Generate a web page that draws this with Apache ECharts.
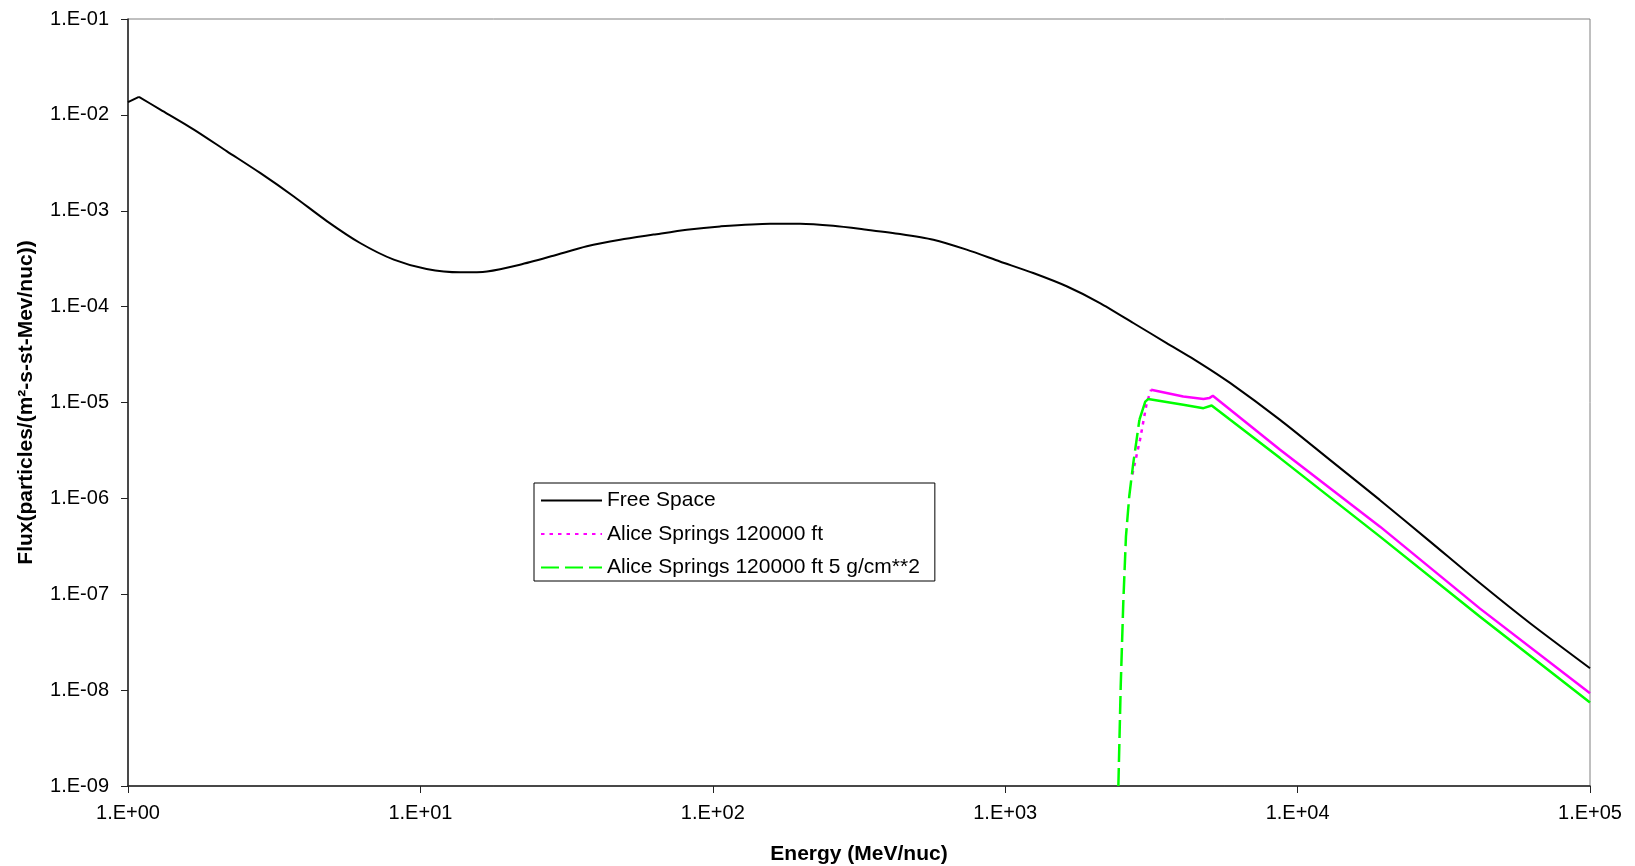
<!DOCTYPE html>
<html>
<head>
<meta charset="utf-8">
<title>Flux vs Energy</title>
<script src="https://cdn.jsdelivr.net/npm/echarts@6/dist/echarts.min.js"></script>
<style>
  html, body { margin: 0; padding: 0; background: #fff; }
  #main { width: 1635px; height: 866px; }
</style>
</head>
<body>
<div id="main"></div>
<script>
// tick labels
var xTicks = ['1.E+00', '1.E+01', '1.E+02', '1.E+03', '1.E+04', '1.E+05'];
var yTicks = ['1.E-09', '1.E-08', '1.E-07', '1.E-06', '1.E-05', '1.E-04', '1.E-03', '1.E-02', '1.E-01'];

// Free Space
var freeEnergy = [1, 1.09, 1.29, 1.68, 2.18, 2.83, 3.69, 4.8, 6.22, 8.11, 10.5, 13.7, 16.9, 21.9, 28.5, 37.1,
  48.2, 62.7, 81.5, 106, 157, 199, 258, 336, 437, 568, 738, 959, 1247, 1622, 2109, 2742, 3565, 4634,
  5875, 8710, 12900, 19100, 28400, 42100, 62400, 100000];
var freeFlux = [1.355e-2, 1.54e-2, 1.135e-2, 7.03e-3, 4.17e-3, 2.48e-3, 1.41e-3, 7.76e-4, 4.61e-4, 3.09e-4,
  2.47e-4, 2.28e-4, 2.33e-4, 2.74e-4, 3.40e-4, 4.26e-4, 4.99e-4, 5.64e-4, 6.35e-4, 6.87e-4, 7.33e-4,
  7.33e-4, 6.98e-4, 6.35e-4, 5.73e-4, 4.99e-4, 3.93e-4, 2.96e-4, 2.24e-4, 1.63e-4, 1.09e-4, 6.75e-5,
  4.17e-5, 2.58e-5, 1.60e-5, 6.59e-6, 2.52e-6, 9.64e-7, 3.54e-7, 1.30e-7, 4.98e-8, 1.69e-8];

// Alice Springs 120000 ft
var aliceEnergy = [2723, 2891, 3048, 3155, 4064, 4764, 4989, 5129, 8710, 19143, 42073, 100000];
var aliceFlux = [1.78e-6, 4.08e-6, 9.86e-6, 1.358e-5, 1.156e-5, 1.086e-5, 1.112e-5, 1.175e-5, 3.21e-6,
  5.07e-7, 7.08e-8, 9.27e-9];

// Alice Springs 120000 ft 5 g/cm**2
var shieldEnergy = [2438, 2483, 2535, 2588, 2655, 2742, 2877, 3013, 3083, 4064, 4764, 5082, 8710, 19143,
  42073, 100000];
var shieldFlux = [1.0e-9, 1.08e-8, 8.38e-8, 3.99e-7, 1.04e-6, 2.33e-6, 6.59e-6, 1.02e-5, 1.086e-5, 9.46e-6,
  8.73e-6, 9.31e-6, 2.63e-6, 3.99e-7, 5.83e-8, 7.41e-9];

var names = ['Free Space', 'Alice Springs 120000 ft', 'Alice Springs 120000 ft 5 g/cm**2'];

function pairs(xs, ys) {
  return xs.map(function (x, i) { return [x, ys[i]]; });
}

var freeData = pairs(freeEnergy, freeFlux);
var aliceData = pairs(aliceEnergy, aliceFlux);
var shieldData = pairs(shieldEnergy, shieldFlux);

var font = "'Liberation Sans', Arial, sans-serif";
var chart = echarts.init(document.getElementById('main'));

var option = {
  animation: false,
  backgroundColor: '#fff',
  grid: {
    left: 128, top: 19, width: 1462, height: 767,
    outerBoundsMode: 'none',
    show: true, borderColor: '#808080', borderWidth: 1
  },
  legend: {
    orient: 'vertical',
    left: 534, top: 483,
    data: names,
    backgroundColor: '#fff',
    borderColor: '#000', borderWidth: 1,
    padding: [7, 15, 3, 6],
    itemWidth: 61, itemHeight: 20, itemGap: 12.5,
    // hide the marker dot, keep only the line sample
    itemStyle: { opacity: 0 },
    textStyle: { fontFamily: font, fontSize: 21, color: '#000', lineHeight: 20 }
  },
  xAxis: {
    type: 'log', logBase: 10, min: 1, max: 100000, splitNumber: 5,
    name: 'Energy (MeV/nuc)', nameLocation: 'middle', nameGap: 58,
    nameTextStyle: { fontFamily: font, fontSize: 21, fontWeight: 'bold', color: '#000' },
    axisLine: { onZero: false, lineStyle: { color: '#222', width: 1.5 } },
    axisTick: { show: true, length: 7, lineStyle: { color: '#222' } },
    minorTick: { show: false },
    splitLine: { show: false },
    axisLabel: {
      margin: 17, fontFamily: font, fontSize: 20, color: '#000',
      formatter: function (v) { return xTicks[Math.round(Math.log10(v))]; }
    }
  },
  yAxis: {
    type: 'log', logBase: 10, min: 1e-9, max: 1e-1, splitNumber: 8,
    name: 'Flux(particles/(m²-s-st-Mev/nuc))', nameLocation: 'middle', nameGap: 91,
    nameTextStyle: { fontFamily: font, fontSize: 21, fontWeight: 'bold', color: '#000' },
    axisLine: { onZero: false, lineStyle: { color: '#222', width: 1.5 } },
    axisTick: { show: true, length: 7, lineStyle: { color: '#222' } },
    minorTick: { show: false },
    splitLine: { show: false },
    axisLabel: {
      margin: 19, fontFamily: font, fontSize: 20, color: '#000',
      formatter: function (v) { return yTicks[Math.round(Math.log10(v)) + 9]; }
    }
  },
  series: [
    // first short segment kept straight so the little peak stays sharp
    {
      name: names[0], type: 'line', data: freeData.slice(0, 2), symbol: 'none',
      lineStyle: { color: '#000', width: 2 }, itemStyle: { color: '#000' }
    },
    {
      name: names[0], type: 'line', data: freeData.slice(1), symbol: 'none', smooth: 0.25,
      lineStyle: { color: '#000', width: 2 }, itemStyle: { color: '#000' }
    },
    // rising part drawn dotted, the dense tail looks solid like in the original
    {
      name: names[1], type: 'line', data: aliceData.slice(0, 4), symbol: 'none',
      lineStyle: { color: '#ff00ff', width: 2.5, type: [3.5, 5] }, itemStyle: { color: '#ff00ff' }
    },
    {
      name: names[1], type: 'line', data: aliceData.slice(3), symbol: 'none',
      lineStyle: { color: '#ff00ff', width: 2.5 }, itemStyle: { color: '#ff00ff' }
    },
    {
      name: names[2], type: 'line', data: shieldData.slice(0, 7), symbol: 'none',
      lineStyle: { color: '#00ff00', width: 2.5, type: [18, 6] }, itemStyle: { color: '#00ff00' }
    },
    {
      name: names[2], type: 'line', data: shieldData.slice(6), symbol: 'none',
      lineStyle: { color: '#00ff00', width: 2.5 }, itemStyle: { color: '#00ff00' }
    }
  ]
};

chart.setOption(option);
</script>
</body>
</html>
